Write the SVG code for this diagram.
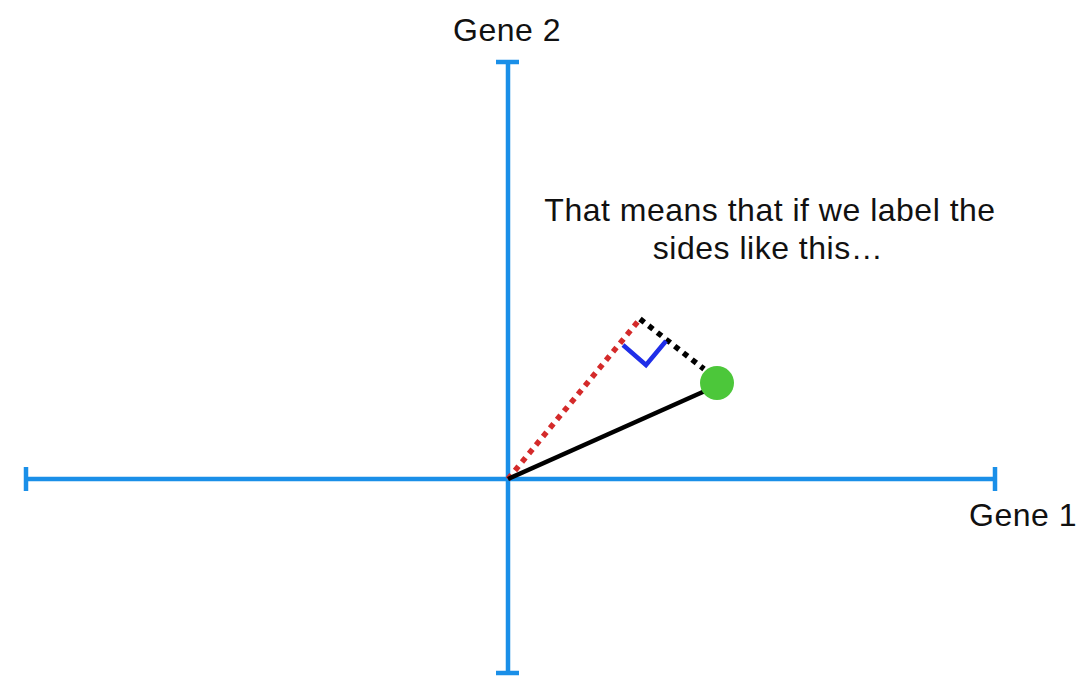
<svg xmlns="http://www.w3.org/2000/svg" width="1080" height="694" viewBox="0 0 1080 694">
<style>
.axis{stroke:#1a8fe8;stroke-width:4.5;fill:none}
.lbl{font-family:"Helvetica","Liberation Sans",Arial,sans-serif;font-size:32px;letter-spacing:0.5px;fill:#111}
</style>
<rect width="1080" height="694" fill="#fff"/>
<g id="axes">
<line class="axis" x1="26" y1="479" x2="995" y2="479"/>
<line class="axis" x1="26" y1="467" x2="26" y2="491"/>
<line class="axis" x1="995" y1="467" x2="995" y2="491"/>
<line class="axis" x1="508" y1="62" x2="508" y2="673"/>
<line class="axis" x1="496" y1="62" x2="519" y2="62"/>
<line class="axis" x1="496" y1="673" x2="519" y2="673"/>
</g>
<g id="connectors">
<line x1="508" y1="479" x2="640" y2="319" stroke="#d42a2a" stroke-width="5.5" stroke-dasharray="5.5 5.5"/>
<line x1="640" y1="319" x2="704" y2="369" stroke="#000" stroke-width="5.5" stroke-dasharray="5.5 5.5"/>
<line x1="508" y1="479" x2="705" y2="391" stroke="#000" stroke-width="4.5"/>
<polyline points="623,345 646,365 666,341" fill="none" stroke="#1f2ee8" stroke-width="4.5"/>
</g>
<g id="point">
<circle cx="717" cy="383" r="17" fill="#4cc73a"/>
</g>
<g id="labels">
<text class="lbl" x="507" y="41" text-anchor="middle">Gene 2</text>
<text class="lbl" x="1023" y="526" text-anchor="middle">Gene 1</text>
<text class="lbl" x="770" y="221" text-anchor="middle" letter-spacing="0.85">That means that if we label the</text>
<text class="lbl" x="768" y="259" text-anchor="middle">sides like this…</text>
</g>
</svg>
